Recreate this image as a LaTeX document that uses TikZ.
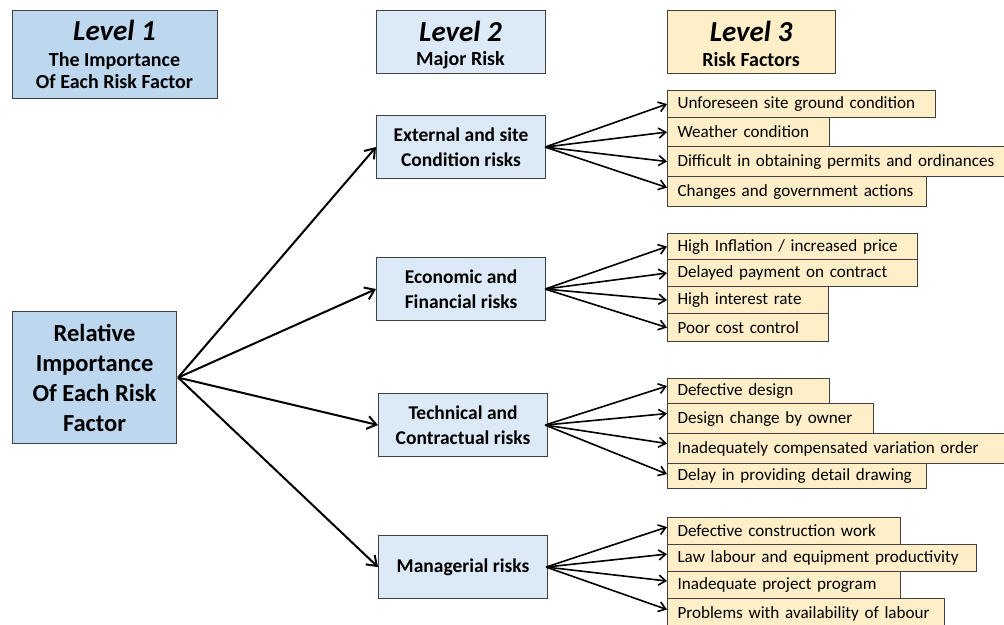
\documentclass[tikz,border=0pt]{standalone}
\usepackage{fontspec}
\setmainfont{Carlito}
\usetikzlibrary{arrows.meta}
\definecolor{lvA}{HTML}{BDD7EE}
\definecolor{lvB}{HTML}{DCE9F6}
\definecolor{lvC}{HTML}{FFEFC9}
\definecolor{edge}{HTML}{404040}
\tikzset{
  base/.style={draw=edge, line width=1.1pt, anchor=north west, inner sep=0pt, align=center},
  headA/.style={base, fill=lvA},
  headB/.style={base, fill=lvB},
  headC/.style={base, fill=lvC},
  mainbox/.style={base, fill=lvA, font=\fontsize{24.5}{30}\selectfont\bfseries},
  riskbox/.style={base, fill=lvB, minimum width=169pt, minimum height=63pt, font=\fontsize{19.5}{25}\selectfont\bfseries},
  factor/.style={draw=edge, line width=1.1pt, fill=lvC, anchor=north west, inner ysep=0pt, inner xsep=10pt, align=left, font=\fontsize{17.1}{18}\selectfont},
  bigarrow/.style={line width=2pt, -{Straight Barb[length=9pt,width=13pt,line width=2pt]}},
  smallarrow/.style={line width=1.6pt, -{Straight Barb[length=7pt,width=10pt,line width=1.6pt]}},
  ttl/.style={font=\fontsize{29}{30}\selectfont\bfseries\itshape},
  sub/.style={font=\fontsize{20}{22}\selectfont\bfseries}
}
\newcommand{\fbx}[5]{\node[factor, minimum width=#3pt, minimum height=#4pt, text width=#3pt-20pt] (#1) at (667,#2) {#5};}
\begin{document}
\begin{tikzpicture}[x=1pt,y=-1pt]
\useasboundingbox (0,0) rectangle (1004,624);
% headers
\node[headA, minimum width=205pt, minimum height=88pt] (h1) at (12,10) {};
\node[ttl] (h1t) at (114.5,30) {Level 1};
\node[sub, align=center] (h1s) at (114.5,71) {The Importance\\Of Each Risk Factor};
\node[headB, minimum width=169pt, minimum height=63pt] (h2) at (376,10) {};
\node[ttl] (h2t) at (460.5,31) {Level 2};
\node[sub] (h2s) at (460.5,60) {Major Risk};
\node[headC, minimum width=168pt, minimum height=63pt] (h3) at (667,10) {};
\node[ttl] (h3t) at (751,31) {Level 3};
\node[sub] (h3s) at (751,60) {Risk Factors};
% main box
\node[mainbox, minimum width=164pt, minimum height=132pt] (m) at (12,311) {Relative\\Importance\\Of Each Risk\\Factor};
% level 2
\node[riskbox] (r1) at (376,115) {External and site\\Condition risks};
\node[riskbox] (r2) at (376,257) {Economic and\\Financial risks};
\node[riskbox] (r3) at (378,393) {Technical and\\Contractual risks};
\node[riskbox] (r4) at (378,535) {Managerial risks};
% level 3
\fbx{a1}{90}{268}{27}{Unforeseen site ground condition}
\fbx{a2}{117}{162}{29}{Weather condition}
\fbx{a3}{146}{340}{30}{Difficult in obtaining permits and ordinances}
\fbx{a4}{176}{259}{30}{Changes and government actions}
\fbx{b1}{233}{250}{26}{High Inflation / increased price}
\fbx{b2}{259}{250}{27}{Delayed payment on contract}
\fbx{b3}{286}{161}{27}{High interest rate}
\fbx{b4}{313}{161}{28}{Poor cost control}
\fbx{c1}{378}{162}{25}{Defective design}
\fbx{c2}{403}{206}{30}{Design change by owner}
\fbx{c3}{433}{340}{30}{Inadequately compensated variation order}
\fbx{c4}{463}{259}{25}{Delay in providing detail drawing}
\fbx{d1}{517}{233}{27}{Defective construction work}
\fbx{d2}{544}{309}{27}{Law labour and equipment productivity}
\fbx{d3}{571}{233}{27}{Inadequate project program}
\fbx{d4}{598}{277}{30}{Problems with availability of labour}
% arrows level 1 -> 2
\foreach \t in {r1,r2,r3,r4} \draw[bigarrow] ([xshift=1pt]m.east) -- (\t.west);
% arrows level 2 -> 3
\foreach \t in {a1,a2,a3} \draw[smallarrow] ([xshift=-1pt]r1.east) -- (\t.west);
\draw[smallarrow] ([xshift=-1pt]r1.east) -- ([yshift=4pt]a4.west);
\foreach \t in {b1,b2,b3,b4} \draw[smallarrow] ([xshift=-1pt]r2.east) -- (\t.west);
\foreach \t in {c1,c2,c3} \draw[smallarrow] ([xshift=-3pt]r3.east) -- ([yshift=5pt]\t.west);
\draw[smallarrow] ([xshift=-3pt]r3.east) -- ([yshift=2pt]c4.west);
\foreach \t in {d1,d2,d3,d4} \draw[smallarrow] ([xshift=-2pt]r4.east) -- ([yshift=4pt]\t.west);
\end{tikzpicture}
\end{document}
